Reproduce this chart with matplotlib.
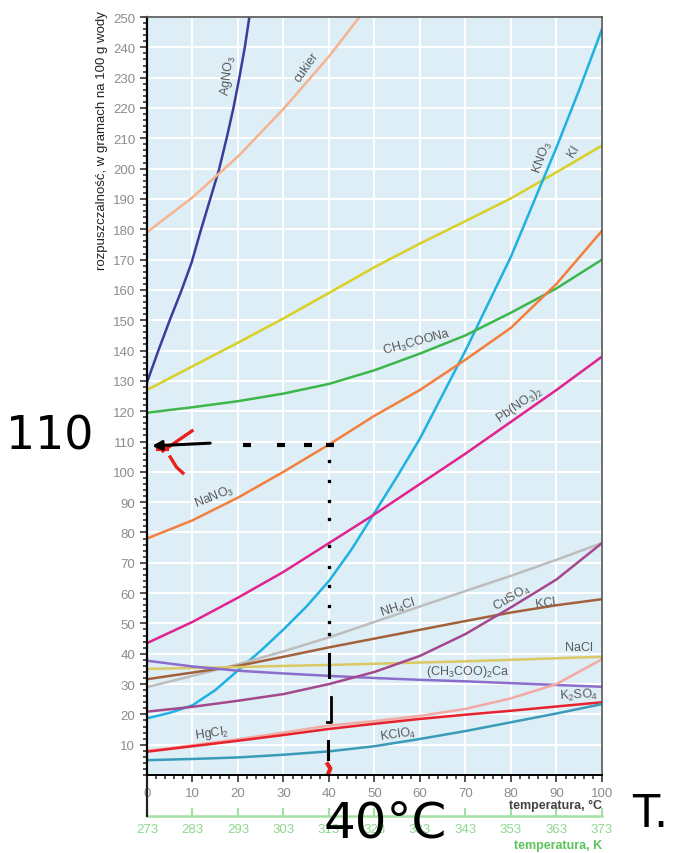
import matplotlib
matplotlib.use("Agg")
import matplotlib.pyplot as plt
from matplotlib.ticker import MultipleLocator, FixedLocator

plt.rcParams["font.family"] = ["Liberation Sans", "DejaVu Sans"]
plt.rcParams["mathtext.default"] = "regular"

# solubility curves: (temperature °C, g per 100 g water)
agno3_t = [0, 2.5, 5, 7.5, 9.8, 11.8, 13.8, 15.8, 17.5, 19, 20.3, 21.5, 22.5]
agno3_s = [129.5, 140, 150, 159.5, 169, 179.5, 189.5, 199.5, 210, 220, 230, 240, 250]
sugar_t = [0, 10, 20, 30, 40, 46.7]
sugar_s = [179, 190.5, 204, 219.7, 237, 250]
t10 = [0, 10, 20, 30, 40, 50, 60, 70, 80, 90, 100]
ki_s = [127, 134.8, 142.6, 150.6, 159, 167.5, 175.3, 182.7, 190.2, 198.8, 207.6]
knt_t = [0, 5, 10, 15, 20, 25, 30, 35, 40, 45, 50, 55, 60, 65, 70, 75, 80, 85, 90, 95, 100]
kno3_s = [18.7, 20.5, 23, 28, 34.5, 41, 48, 55.5, 64, 74.5, 86.5, 98.5, 111, 125.5, 140,
          155.5, 171, 189, 207, 226, 246]
ch3coona_s = [119.5, 121.3, 123.3, 125.8, 129, 133.5, 139, 145, 152.5, 160.5, 170]
nano3_s = [78, 84, 91.5, 100, 109, 118.5, 127, 137, 147.5, 162, 179.5]
pbno3_s = [43.5, 50.5, 58.5, 67, 76.5, 86, 96, 106, 116.5, 127, 138]
nh4cl_s = [29, 32.7, 36.5, 40.8, 45.4, 50.5, 55.6, 60.7, 65.7, 71, 76.5]
kcl_s = [31.6, 33.8, 36, 39, 42.1, 45, 47.9, 50.8, 53.6, 56, 58]
nacl_s = [35, 35.3, 35.6, 36, 36.3, 36.7, 37.1, 37.5, 38, 38.5, 39]
caac_s = [37.7, 35.8, 34.4, 33.5, 32.7, 32, 31.4, 30.9, 30.3, 29.7, 29.1]
cuso4_s = [20.9, 22.5, 24.5, 26.7, 30, 34, 39.3, 46.5, 55.3, 64.5, 76.5]
k2so4_s = [7.7, 9.5, 11.3, 13.2, 15.2, 16.9, 18.5, 19.9, 21.2, 22.6, 24]
hgcl2_s = [8, 9.8, 11.8, 14, 16.3, 17.8, 19.5, 21.8, 25.3, 30, 38.2]
kclo4_s = [4.9, 5.3, 5.8, 6.7, 7.8, 9.5, 11.9, 14.5, 17.4, 20.3, 23.4]

series = [
    (agno3_t, agno3_s, "#3b3c9c"),
    (sugar_t, sugar_s, "#f6b38f"),
    (t10, ki_s, "#d9d024"),
    (knt_t, kno3_s, "#1fb1e2"),
    (t10, ch3coona_s, "#3db64b"),
    (t10, nano3_s, "#f47e3b"),
    (t10, pbno3_s, "#e0238f"),
    (t10, nh4cl_s, "#bdbdbd"),
    (t10, kcl_s, "#a2613a"),
    (t10, nacl_s, "#d9c863"),
    (t10, caac_s, "#8b6dcc"),
    (t10, cuso4_s, "#a3498b"),
    (t10, hgcl2_s, "#f2aaa3"),
    (t10, k2so4_s, "#e8222c"),
    (t10, kclo4_s, "#3a9bb9"),
]

# curve labels: text, x, y, rotation
labels = [
    (r"AgNO$_3$", 17.8, 231, 82),
    ("cukier", 35.2, 233.5, 55),
    (r"KNO$_3$", 87.0, 204, 70),
    ("KI", 93.8, 206, 58),
    (r"CH$_3$COONa", 59.3, 143, 15),
    (r"Pb(NO$_3$)$_2$", 82, 122.4, 35),
    (r"NaNO$_3$", 14.9, 92.1, 22),
    (r"NH$_4$Cl", 55.2, 55.3, 18),
    (r"CuSO$_4$", 80.2, 58.5, 30),
    ("KCl", 87.6, 57, 8),
    ("NaCl", 95, 42.1, 0),
    (r"(CH$_3$COO)$_2$Ca", 70.6, 34.4, 0),
    (r"K$_2$SO$_4$", 94.8, 26.7, 3),
    (r"KClO$_4$", 55.2, 13.5, 8),
    (r"HgCl$_2$", 14.2, 14.1, 8),
]

# handwritten reading of the chart: 110 g at 40 °C
read_t = 40
read_s = 109
dash_x = [22, 29.5, 35.4, 40.2]
vdot_s = [103.6, 97, 90.5, 84.4, 75.5, 68.5, 62.5, 55.8, 50.5, 46.5]

fig = plt.figure(figsize=(6.83, 8.54), dpi=100)
ax = fig.add_axes([0.2152, 0.0913, 0.6662, 0.8876])
ax.set_facecolor("#ddeef6")
ax.set_xlim(0, 100)
ax.set_ylim(0, 250)

ax.xaxis.set_major_locator(MultipleLocator(10))
ax.xaxis.set_minor_locator(MultipleLocator(2))
ax.yaxis.set_major_locator(MultipleLocator(10))
ax.yaxis.set_minor_locator(MultipleLocator(2))
ax.grid(True, which="major", color="white", lw=1.5)
ax.set_axisbelow(True)
ax.tick_params(which="both", direction="out", colors="#222", labelcolor="#8c8c8c",
               labelsize=9.5, width=1.1)
ax.tick_params(which="major", length=5)
ax.tick_params(which="minor", length=3)
ax.set_yticks(range(10, 251, 10))

for sp in ("top", "right"):
    ax.spines[sp].set_color("#555")
    ax.spines[sp].set_linewidth(1.2)
ax.spines["left"].set_linewidth(1.6)
ax.spines["bottom"].set_linewidth(1.4)

for xs, ys, c in series:
    ax.plot(xs, ys, color=c, lw=1.8, solid_joinstyle="round", solid_capstyle="round")

for txt, x, y, rot in labels:
    ax.text(x, y, txt, rotation=rot, ha="center", va="center", fontsize=9,
            color="#5a5a5a", rotation_mode="anchor")

# kelvin scale
kpos = -0.054
sec = ax.secondary_xaxis(kpos, functions=(lambda c: c + 273, lambda k: k - 273))
sec.xaxis.set_major_locator(FixedLocator(range(273, 374, 10)))
sec.spines["bottom"].set_color("#a3e0a3")
sec.spines["bottom"].set_linewidth(1.8)
sec.tick_params(direction="in", length=6, width=1.5, colors="#a3e0a3",
                labelcolor="#8fd68f", labelsize=9.5, pad=5)
ax.plot([0, 0], [0, kpos], transform=ax.transAxes, color="#222", lw=1.6, clip_on=False)

ax.text(1.0, -0.04, "temperatura, °C", transform=ax.transAxes, ha="right", va="center",
        fontsize=9, color="#444", fontweight="bold")
ax.text(1.0, -0.092, "temperatura, K", transform=ax.transAxes, ha="right", va="center",
        fontsize=9, color="#5cc45c", fontweight="bold")
fig.text(102 / 683, 1 - 141 / 854, "rozpuszczalność, w gramach na 100 g wody",
         rotation=90, ha="center", va="center", fontsize=9.5, color="#222")

# hand-drawn reading lines
ax.annotate("", xy=(0.5, 108.5), xytext=(14.5, 109.5),
            arrowprops=dict(arrowstyle="-|>", color="black", lw=2.2, mutation_scale=14))
ax.plot(dash_x, [read_s] * len(dash_x), ls="none", marker="_", ms=6, mew=3, color="black")
ax.plot([read_t] * len(vdot_s), vdot_s, ls="none", marker="s", ms=2, color="black")
ax.plot([read_t, read_t], [32.3, 39.9], color="black", lw=2.2)
ax.plot([read_t + 0.5, read_t + 0.5, read_t - 0.4], [25.7, 17.5, 17.5], color="black", lw=2)
ax.plot([read_t - 0.3, read_t - 0.3], [5.3, 11.2], color="black", lw=2.2)
ax.plot([3.5, 9.9], [106.9, 113.5], color="#e8201c", lw=2.4)
ax.plot([5.1, 6.5, 7.9], [104.9, 101.5, 99.6], color="#e8201c", lw=2.4)
ax.plot([2.5, 4.5], [107.5, 107.5], color="#e8201c", lw=3)
ax.plot([read_t - 0.3, read_t + 0.3, read_t - 0.2], [3.6, 2.2, 0.3], color="#e8201c",
        lw=3, clip_on=False)

fig.text(50 / 683, 1 - 437 / 854, "110", fontsize=33, ha="center", va="center",
         family="DejaVu Sans", color="black")
fig.text(385 / 683, 1 - 824 / 854, "40°C", fontsize=36, ha="center", va="center",
         family="DejaVu Sans", color="black")
fig.text(650 / 683, 1 - 815 / 854, "T.", fontsize=32, ha="center", va="center",
         family="DejaVu Sans", color="black")

fig.savefig("out.png", dpi=100, facecolor="white")
